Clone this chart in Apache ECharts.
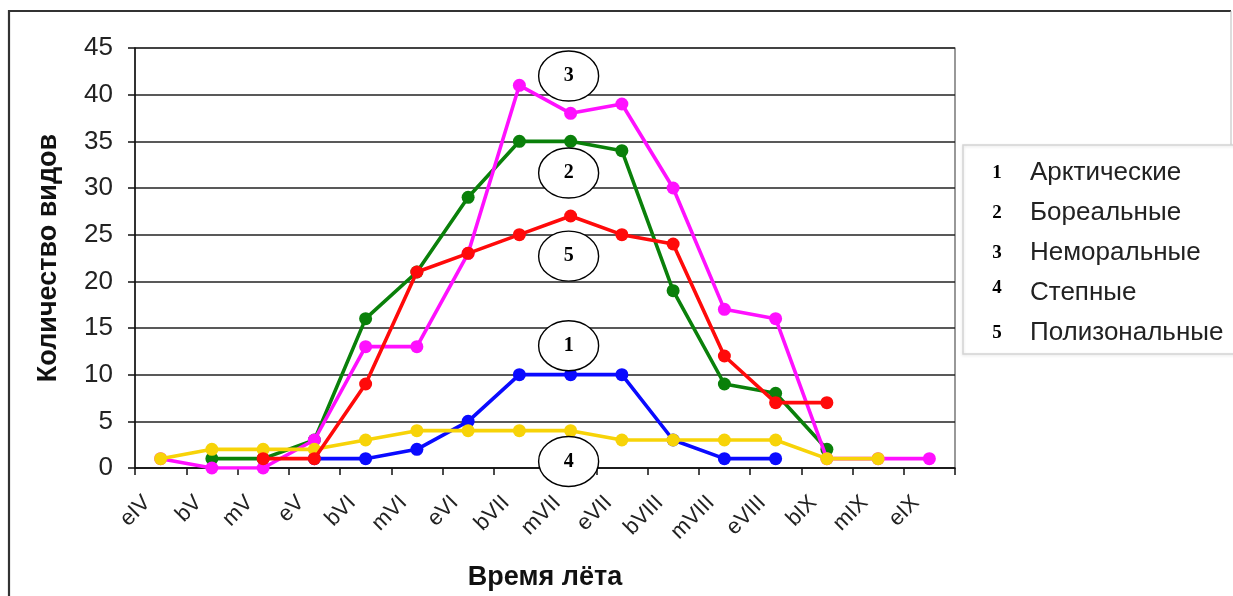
<!DOCTYPE html>
<html>
<head>
<meta charset="utf-8">
<script src="https://cdn.jsdelivr.net/npm/echarts@6/dist/echarts.min.js"></script>
<style>
  html, body { margin: 0; padding: 0; background: #fff; }
  #chart { width: 1233px; height: 596px; }
</style>
</head>
<body>
<div id="chart"></div>
<script>
// Flight periods (b = beginning, m = middle, e = end of month)
const periods = ['eIV', 'bV', 'mV', 'eV', 'bVI', 'mVI', 'eVI', 'bVII', 'mVII', 'eVII', 'bVIII', 'mVIII', 'eVIII', 'bIX', 'mIX', 'eIX'];

// Number of species on the wing per period, by range group
const arctic     = [null, null, null, 1, 1, 2, 5, 10, 10, 10, 3, 1, 1, null, null, null];
const boreal     = [null, 1, 1, 3, 16, 21, 29, 35, 35, 34, 19, 9, 8, 2, null, null];
const nemoral    = [1, 0, 0, 3, 13, 13, 23, 41, 38, 39, 30, 17, 16, 1, 1, 1];
const steppe     = [1, 2, 2, 2, 3, 4, 4, 4, 4, 3, 3, 3, 3, 1, 1, null];
const polyzonal  = [null, null, 1, 1, 9, 21, 23, 25, 27, 25, 24, 12, 7, 7, null, null];

const groupNames = ['Арктические', 'Бореальные', 'Неморальные', 'Степные', 'Полизональные'];
const groupNumbers = ['1', '2', '3', '4', '5'];
const yTicks = { min: 0, max: 45, step: 5 };

// Numbered ovals placed beside the curves: number, period, value
const markerNums   = ['3', '2', '5', '1', '4'];
const markerPeriod = ['mVII', 'mVII', 'mVII', 'mVII', 'mVII'];
const markerValue  = [42.0, 31.6, 22.7, 13.1, 0.7];

const colors = ['#0a0aff', '#0a800a', '#ff10ff', '#f7d308', '#ff0a0a'];
const seriesData = [arctic, boreal, nemoral, steppe, polyzonal];

const chart = echarts.init(document.getElementById('chart'), null, { renderer: 'canvas' });

const sans = 'Liberation Sans, Arial, sans-serif';
const serif = 'Liberation Serif, Times New Roman, serif';

const legendRich = {
  n:  { fontFamily: serif, fontWeight: 'bold', fontSize: 19, color: '#000', width: 38, align: 'center' },
  // the "4" sits a little higher than its caption
  n4: { fontFamily: serif, fontWeight: 'bold', fontSize: 19, color: '#000', width: 38, align: 'center',
        lineHeight: 1, verticalAlign: 'top' },
  t:  { fontFamily: sans, fontSize: 26, color: '#222', padding: [0, 0, 0, 14], lineHeight: 28 }
};

chart.setOption({
  animation: false,
  backgroundColor: '#fff',
  color: colors,
  grid: {
    left: 135, right: 278, top: 48, bottom: 126,
    show: true, borderColor: '#555', borderWidth: 1.2
  },
  legend: {
    orient: 'vertical',
    left: 963, top: 145,
    padding: [14, 70, 7, 10],
    itemWidth: 0, itemHeight: 0, itemGap: 12,
    icon: 'rect',
    borderColor: '#d4d4d4', borderWidth: 1.5,
    shadowColor: 'rgba(0,0,0,0.12)', shadowBlur: 3, shadowOffsetY: 1,
    selectedMode: false,
    data: groupNames,
    formatter: function (name) {
      const i = groupNames.indexOf(name);
      const key = groupNumbers[i] === '4' ? 'n4' : 'n';
      return '{' + key + '|' + groupNumbers[i] + '}{t|' + name + '}';
    },
    textStyle: { rich: legendRich, lineHeight: 28 }
  },
  xAxis: {
    type: 'category',
    data: periods,
    boundaryGap: true,
    name: 'Время лёта',
    nameLocation: 'middle',
    nameGap: 96,
    nameTextStyle: { fontFamily: sans, fontWeight: 'bold', fontSize: 27, color: '#111' },
    axisLine: { lineStyle: { color: '#111', width: 1.5 } },
    axisTick: { show: true, length: 7, lineStyle: { color: '#111', width: 1.5 } },
    axisLabel: {
      rotate: 45, interval: 0, margin: 18,
      fontFamily: sans, fontSize: 22, color: '#222',
      padding: [0, 19, 0, 0]
    },
    splitLine: { show: false }
  },
  yAxis: {
    type: 'value',
    min: yTicks.min, max: yTicks.max, interval: yTicks.step,
    name: 'Количество видов',
    nameLocation: 'middle',
    nameRotate: 90,
    nameGap: 73,
    nameTextStyle: { fontFamily: sans, fontWeight: 'bold', fontSize: 27, color: '#111' },
    axisLine: { show: true, lineStyle: { color: '#111', width: 1.5 } },
    axisTick: { show: true, length: 7, lineStyle: { color: '#111', width: 1.5 } },
    axisLabel: { margin: 22, fontFamily: sans, fontSize: 26, color: '#222' },
    splitLine: { show: true, lineStyle: { color: '#222', width: 1.6 } }
  },
  series: groupNames.map(function (name, i) {
    return {
      name: name,
      type: 'line',
      data: seriesData[i],
      symbol: 'circle',
      symbolSize: 13,
      connectNulls: false,
      lineStyle: { width: 3.6, color: colors[i] },
      itemStyle: { color: colors[i] },
      z: 2 + i
    };
  })
});

// Outer frame and numbered ovals, positioned through the chart's own coordinate system
function drawOverlays() {
  const elements = [
    { type: 'polyline', silent: true, z: 0,
      shape: { points: [[9, 600], [9, 11], [1231, 11]] },
      style: { stroke: '#333', lineWidth: 2.2, fill: null } },
    { type: 'line', silent: true, z: 0,
      shape: { x1: 1231, y1: 11, x2: 1231, y2: 145 },
      style: { stroke: '#bbb', lineWidth: 1 } }
  ];
  markerNums.forEach(function (num, i) {
    const p = chart.convertToPixel({ gridIndex: 0 }, [markerPeriod[i], markerValue[i]]);
    elements.push({
      type: 'ellipse', z: 20,
      shape: { cx: p[0] - 2, cy: p[1], rx: 30, ry: 25 },
      style: { fill: '#fff', stroke: '#000', lineWidth: 1.4 }
    });
    elements.push({
      type: 'text', z: 21,
      x: p[0] - 2, y: p[1],
      style: {
        text: num, fontFamily: serif, fontWeight: 'bold', fontSize: 20,
        fill: '#000', align: 'center', verticalAlign: 'middle'
      }
    });
  });
  chart.setOption({ graphic: { elements: elements } });
}
drawOverlays();
</script>
</body>
</html>
